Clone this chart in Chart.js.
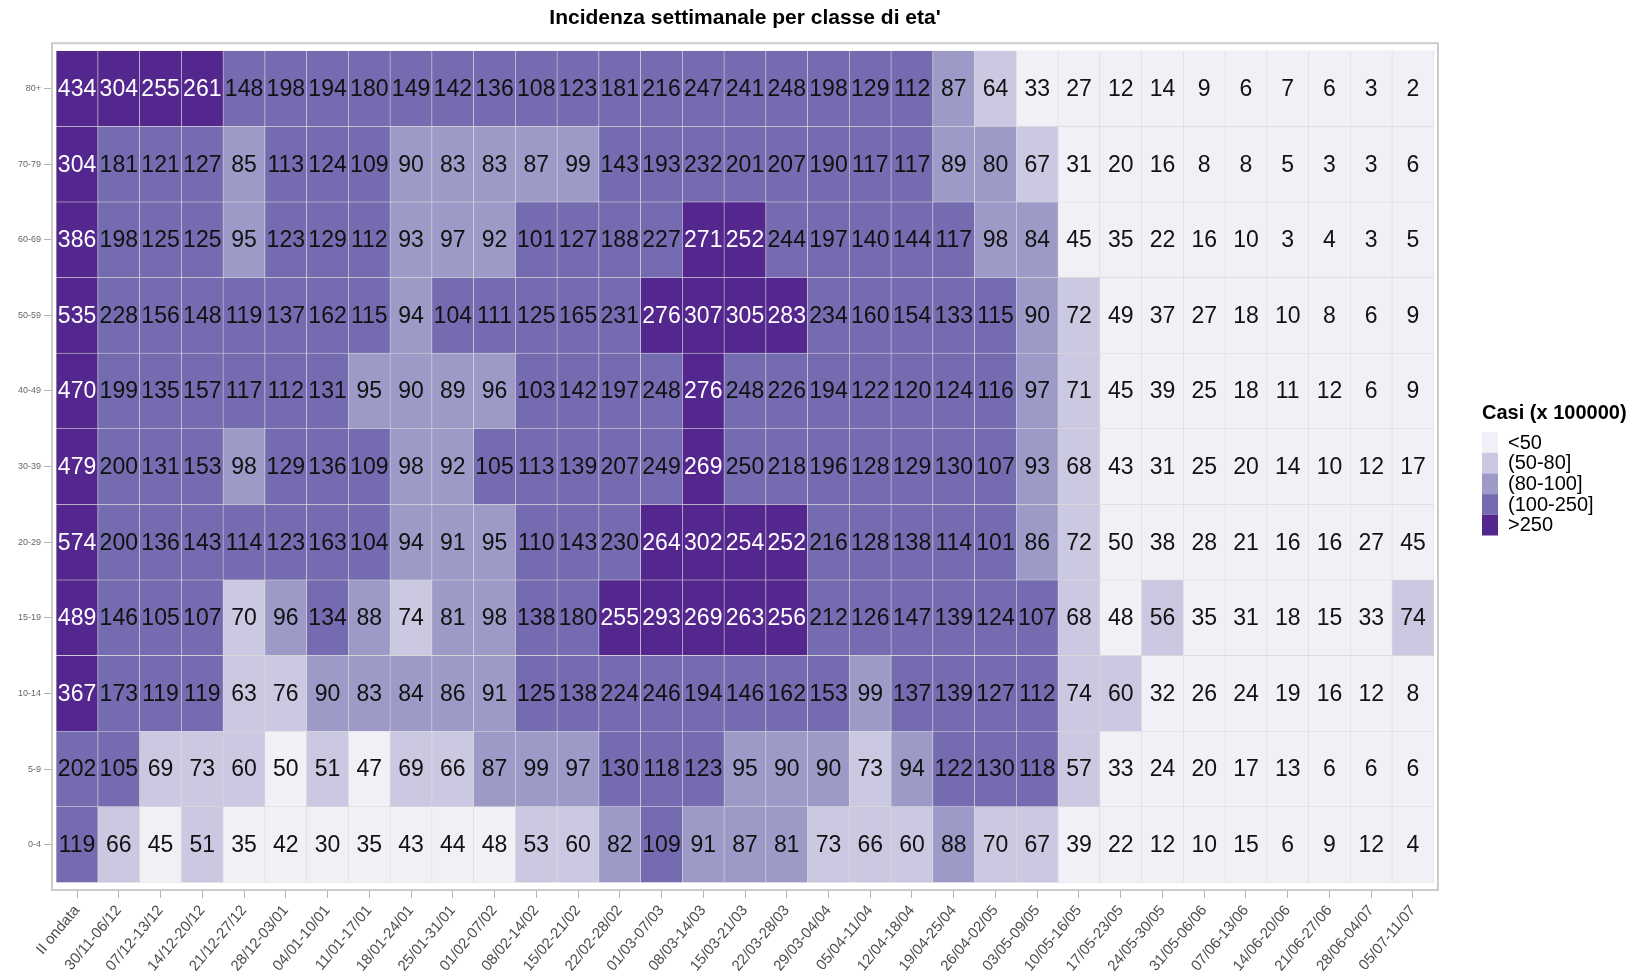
<!DOCTYPE html>
<html>
<head>
<meta charset="utf-8">
<script src="https://cdn.jsdelivr.net/npm/chart.js@4.4.1/dist/chart.umd.min.js"></script>
<style>
  html, body { margin: 0; padding: 0; background: #fff; }
  canvas { display: block; }
</style>
</head>
<body>
<canvas id="heatmap" width="1639" height="978"></canvas>
<script>
// settimane (asse x)
const weeks = ['II ondata', '30/11-06/12', '07/12-13/12', '14/12-20/12', '21/12-27/12', '28/12-03/01',
    '04/01-10/01', '11/01-17/01', '18/01-24/01', '25/01-31/01', '01/02-07/02', '08/02-14/02',
    '15/02-21/02', '22/02-28/02', '01/03-07/03', '08/03-14/03', '15/03-21/03', '22/03-28/03',
    '29/03-04/04', '05/04-11/04', '12/04-18/04', '19/04-25/04', '26/04-02/05', '03/05-09/05',
    '10/05-16/05', '17/05-23/05', '24/05-30/05', '31/05-06/06', '07/06-13/06', '14/06-20/06',
    '21/06-27/06', '28/06-04/07', '05/07-11/07']

// classi di eta' dal basso verso l'alto
const ages = ['0-4', '5-9', '10-14', '15-19', '20-29', '30-39', '40-49', '50-59', '60-69', '70-79', '80+']

const inc0_4   = [119, 66, 45, 51, 35, 42, 30, 35, 43, 44, 48, 53, 60, 82, 109, 91, 87, 81, 73, 66, 60, 88, 70, 67, 39, 22, 12, 10, 15, 6, 9, 12, 4]
const inc5_9   = [202, 105, 69, 73, 60, 50, 51, 47, 69, 66, 87, 99, 97, 130, 118, 123, 95, 90, 90, 73, 94, 122, 130, 118, 57, 33, 24, 20, 17, 13, 6, 6, 6]
const inc10_14 = [367, 173, 119, 119, 63, 76, 90, 83, 84, 86, 91, 125, 138, 224, 246, 194, 146, 162, 153, 99, 137, 139, 127, 112, 74, 60, 32, 26, 24, 19, 16, 12, 8]
const inc15_19 = [489, 146, 105, 107, 70, 96, 134, 88, 74, 81, 98, 138, 180, 255, 293, 269, 263, 256, 212, 126, 147, 139, 124, 107, 68, 48, 56, 35, 31, 18, 15, 33, 74]
const inc20_29 = [574, 200, 136, 143, 114, 123, 163, 104, 94, 91, 95, 110, 143, 230, 264, 302, 254, 252, 216, 128, 138, 114, 101, 86, 72, 50, 38, 28, 21, 16, 16, 27, 45]
const inc30_39 = [479, 200, 131, 153, 98, 129, 136, 109, 98, 92, 105, 113, 139, 207, 249, 269, 250, 218, 196, 128, 129, 130, 107, 93, 68, 43, 31, 25, 20, 14, 10, 12, 17]
const inc40_49 = [470, 199, 135, 157, 117, 112, 131, 95, 90, 89, 96, 103, 142, 197, 248, 276, 248, 226, 194, 122, 120, 124, 116, 97, 71, 45, 39, 25, 18, 11, 12, 6, 9]
const inc50_59 = [535, 228, 156, 148, 119, 137, 162, 115, 94, 104, 111, 125, 165, 231, 276, 307, 305, 283, 234, 160, 154, 133, 115, 90, 72, 49, 37, 27, 18, 10, 8, 6, 9]
const inc60_69 = [386, 198, 125, 125, 95, 123, 129, 112, 93, 97, 92, 101, 127, 188, 227, 271, 252, 244, 197, 140, 144, 117, 98, 84, 45, 35, 22, 16, 10, 3, 4, 3, 5]
// 80.4: mostrato come 80 ma colorato nella classe (80-100]
const inc70_79 = [304, 181, 121, 127, 85, 113, 124, 109, 90, 83, 83, 87, 99, 143, 193, 232, 201, 207, 190, 117, 117, 89, 80.4, 67, 31, 20, 16, 8, 8, 5, 3, 3, 6]
const inc80    = [434, 304, 255, 261, 148, 198, 194, 180, 149, 142, 136, 108, 123, 181, 216, 247, 241, 248, 198, 129, 112, 87, 64, 33, 27, 12, 14, 9, 6, 7, 6, 3, 2]

const rows = [inc0_4, inc5_9, inc10_14, inc15_19, inc20_29, inc30_39, inc40_49, inc50_59, inc60_69, inc70_79, inc80]

// classi della legenda
const binLabels = ['<50', '(50-80]', '(80-100]', '(100-250]', '>250']
const binEdges = [50, 80, 100, 250]
const binColors = ['#f2f0f7', '#cbc9e2', '#9e9ac8', '#756bb1', '#54278f']

const FONT = '"Liberation Sans", Arial, sans-serif'
Chart.defaults.font.family = FONT

const binOf = v => {
    let k = 0
    while (k < binEdges.length && v > binEdges[k]) k++
    return k
}

// numeri dentro le celle
const cellText = {
    id: 'cellText',
    afterDatasetsDraw(chart) {
        const ctx = chart.ctx
        ctx.save()
        ctx.font = '23px ' + FONT
        ctx.textAlign = 'center'
        ctx.textBaseline = 'middle'
        chart.data.datasets.forEach((ds, j) => {
            chart.getDatasetMeta(j).data.forEach((bar, i) => {
                const v = ds.data[i].v
                const { x, y, base } = bar.getProps(['x', 'y', 'base'], true)
                ctx.fillStyle = v > 250 ? '#fff' : '#111'
                ctx.fillText(Math.round(v), x, (y + base) / 2 + 1)
            })
        })
        ctx.restore()
    }
}

// cornice del pannello + legenda
const frameAndLegend = {
    id: 'frameAndLegend',
    afterDraw(chart) {
        const { ctx, chartArea: a } = chart
        ctx.save()
        ctx.strokeStyle = '#cccccc'
        ctx.lineWidth = 2
        ctx.strokeRect(a.left, a.top, a.right - a.left, a.bottom - a.top)

        const lx = 1482
        ctx.fillStyle = '#000'
        ctx.font = 'bold 20px ' + FONT
        ctx.textAlign = 'left'
        ctx.textBaseline = 'middle'
        ctx.fillText('Casi (x 100000)', lx, 413)
        ctx.font = '20px ' + FONT
        binLabels.forEach((lab, k) => {
            const top = 432 + k * 20.7
            ctx.fillStyle = binColors[k]
            ctx.fillRect(lx, top, 16, 20.7)
            ctx.fillStyle = '#000'
            ctx.fillText(lab, lx + 26, top + 11)
        })
        ctx.restore()
    }
}

new Chart('heatmap', {
    type: 'bar',
    data: {
        datasets: ages.map((age, j) => ({
            label: age,
            data: rows[j].map((v, i) => ({ x: i, y: [j - 0.5, j + 0.5], v })),
            backgroundColor: c => c.raw ? binColors[binOf(c.raw.v)] : '#ccc',
            borderColor: '#dadada',
            borderWidth: 0.6,
            borderSkipped: false,
            grouped: false,
            barPercentage: 1,
            categoryPercentage: 1
        }))
    },
    options: {
        responsive: false,
        animation: false,
        layout: { padding: { right: 201 } },
        plugins: {
            legend: { display: false },
            tooltip: { enabled: false },
            title: {
                display: true,
                text: "Incidenza settimanale per classe di eta'",
                fullSize: false,
                color: '#000',
                font: { size: 21, weight: 'bold' },
                padding: { top: 6, bottom: 12 }
            }
        },
        scales: {
            x: {
                type: 'linear',
                min: -0.6,
                max: 32.6,
                offset: false,
                afterBuildTicks: s => { s.ticks = weeks.map((w, i) => ({ value: i })) },
                afterFit: s => { s.height = 88 },
                ticks: {
                    callback: v => weeks[v],
                    autoSkip: false,
                    minRotation: 50,
                    maxRotation: 50,
                    padding: 4,
                    color: '#4d4d4d',
                    font: { size: 15 }
                },
                grid: { offset: false, drawOnChartArea: false, tickLength: 8, color: '#b3b3b3' },
                border: { display: false }
            },
            y: {
                type: 'linear',
                min: -0.6,
                max: 10.6,
                afterBuildTicks: s => { s.ticks = ages.map((a, j) => ({ value: j })) },
                afterFit: s => { s.width = 52 },
                ticks: {
                    callback: v => ages[v],
                    padding: 3,
                    color: '#666',
                    font: { size: 9 }
                },
                grid: { drawOnChartArea: false, tickLength: 8, color: '#b3b3b3' },
                border: { display: false }
            }
        }
    },
    plugins: [cellText, frameAndLegend]
})
</script>
</body>
</html>
